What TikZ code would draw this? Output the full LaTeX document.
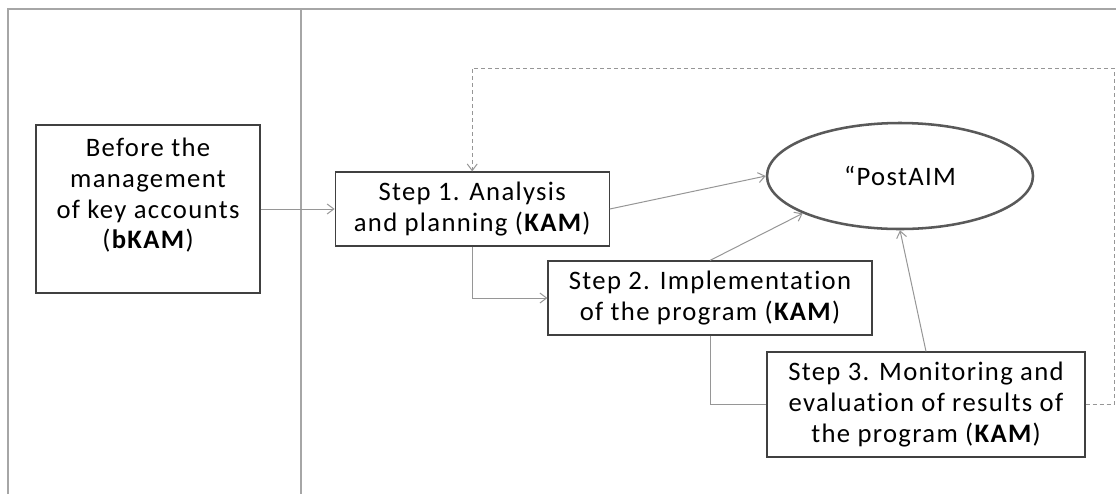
\documentclass[tikz,border=0pt]{standalone}
\usepackage{fontspec}
\setmainfont{Carlito}[LetterSpace=5, Ligatures=NoCommon]
\usepackage{tikz}
\usetikzlibrary{arrows.meta}
\usetikzlibrary{shapes.geometric,positioning}
\definecolor{framegray}{RGB}{166, 166, 166}
\definecolor{boxgray}{RGB}{64, 64, 64}
\definecolor{ovalgray}{RGB}{89, 89, 89}
\definecolor{linegray}{RGB}{150, 150, 150}

\begin{document}
\begin{tikzpicture}
    [x=0.75pt, y=-0.75pt,
    every node/.style={font=\fontsize{20pt}{23pt}\selectfont, text=black},
    kambox/.style={rectangle, draw=boxgray, line width=0.9pt, fill=white, align=center, inner sep=2pt},
    resultoval/.style={ellipse, draw=ovalgray, line width=1.9pt, fill=white, minimum width=199.5pt, minimum height=79.5pt, inner sep=0pt},
    flowline/.style={draw=linegray, line width=0.75pt, -{Straight Barb[length=5pt,width=7.5pt]}},
    backline/.style={flowline, dash pattern=on 3pt off 2.25pt}]
    \useasboundingbox (0,0) rectangle (1116,494);

    % frame and divider
    \draw[framegray, line width=2.2pt] (8,494) |- (1116,9);
    \draw[framegray, line width=2.2pt] (301,9) -- (301,494);

    \node (bkam) [kambox, minimum width=168pt, minimum height=126pt] at (148,209) {Before the\\management\\of key accounts\\(\textbf{bKAM})\\~};
    \node (step1) [kambox, right=55.5pt of bkam, minimum width=205.5pt, minimum height=55.5pt] {Step 1. Analysis\\and planning (\textbf{KAM})};
    \draw[flowline] (bkam) -- (step1);

    \node (postaim) [resultoval] at (900,176) {“PostAIM};
    \draw[flowline] (step1.east) -- (postaim.west);

    \node (step2) [kambox, minimum width=243pt, minimum height=55.5pt] at (710,298) {Step 2. Implementation\\of the program (\textbf{KAM})};
    \draw[flowline] (step1.south) |- (step2.west);
    \draw[flowline] (step2.north) -- (postaim.201);

    \node (step3) [kambox, minimum width=238.5pt, minimum height=78.75pt] at (926,404.5) {Step 3. Monitoring and\\evaluation of results of\\the program (\textbf{KAM})};
    \draw[draw=linegray, line width=0.75pt] (step2.south) |- (step3.west);
    \draw[flowline] (step3.north) -- (postaim.south);

    % feedback loop
    \coordinate (loopcorner) at (1114,68);
    \draw[backline] (step3.east) -| (loopcorner) -| (step1.north);

  \end{tikzpicture}
\end{document}
